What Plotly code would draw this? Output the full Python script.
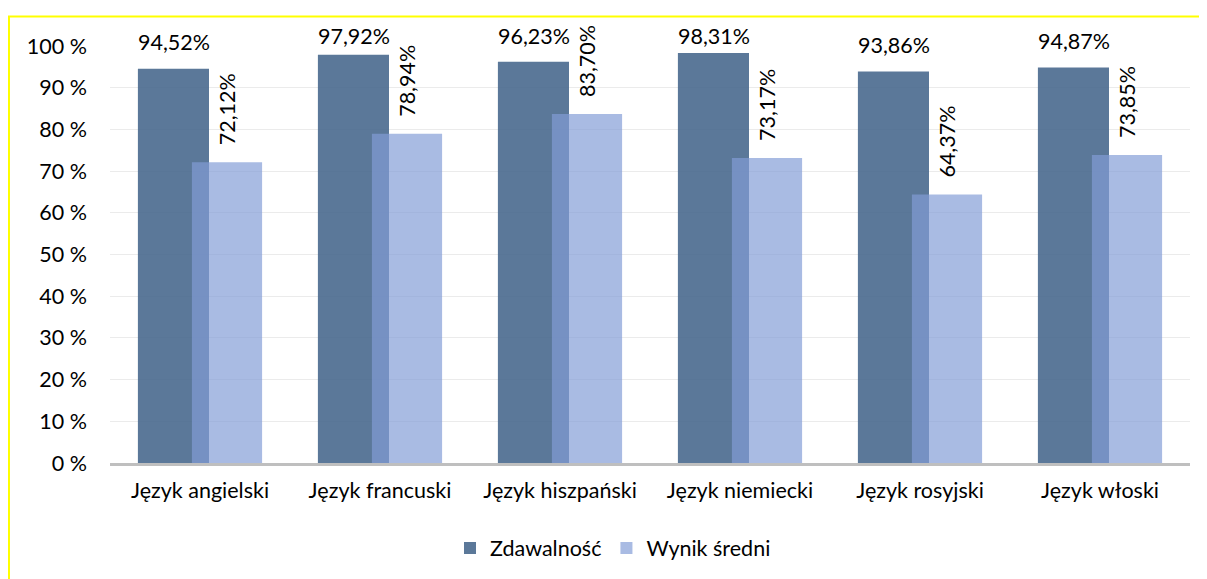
import plotly.graph_objects as go

categories = ["Język angielski", "Język francuski", "Język hiszpański",
              "Język niemiecki", "Język rosyjski", "Język włoski"]
zdawalnosc = [94.52, 97.92, 96.23, 98.31, 93.86, 94.87]
wynik_sredni = [72.12, 78.94, 83.70, 73.17, 64.37, 73.85]
y_ticks = [0, 10, 20, 30, 40, 50, 60, 70, 80, 90, 100]
y_tick_text = [f"{v} %" for v in y_ticks]

def fmt(v):
    return f"{v:.2f}".replace(".", ",") + "%"

FONT = "Lato"
FS = 21.5
OFF = 8  # page body margin
W, H = 1207 - OFF, 579 - OFF
L, R, T, B = 102, 17, 38, 115
PW, PH = W - L - R, H - T - B
Y_MAX = 100
PX_PER_UNIT = PH / Y_MAX

def px(x):  # screen x -> paper
    return (x - OFF - L) / PW

def py(y):  # screen y -> paper
    return (H - B - (y - OFF)) / PH

fig = go.Figure()
fig.add_trace(go.Bar(
    x=categories, y=zdawalnosc, name="Zdawalność",
    marker=dict(color="rgba(73,105,142,0.9)", line=dict(width=0)),
    width=0.395, offset=-0.345,
))
fig.add_trace(go.Bar(
    x=categories, y=wynik_sredni, name="Wynik średni",
    marker=dict(color="rgba(130,156,214,0.69)", line=dict(width=0)),
    width=0.39, offset=-0.045,
))

annotations = []
for c, v in zip(categories, zdawalnosc):
    shift = min(26.5, (Y_MAX - v) * PX_PER_UNIT + 10)
    annotations.append(dict(
        x=c, y=v, xref="x", yref="y", text=fmt(v),
        showarrow=False, xshift=-26.5, yshift=shift,
        yanchor="middle", xanchor="center",
        font=dict(family=FONT, size=FS, color="#000000"),
    ))
for c, v in zip(categories, wynik_sredni):
    annotations.append(dict(
        x=c, y=v, xref="x", yref="y", text=fmt(v), showarrow=False,
        xshift=27, yshift=53, yanchor="middle", xanchor="center",
        textangle=-90,
        font=dict(family=FONT, size=FS, color="#000000"),
    ))

fig.update_layout(
    width=W, height=H,
    margin=dict(l=L, r=R, t=T, b=B, pad=0),
    barmode="overlay",
    paper_bgcolor="white", plot_bgcolor="white",
    font=dict(family=FONT, size=FS, color="#000000"),
    showlegend=True,
    legend=dict(orientation="h", x=px(613), xanchor="center",
                y=py(548), yanchor="middle",
                font=dict(family=FONT, size=FS, color="#000000"),
                itemwidth=30, traceorder="normal"),
    annotations=annotations,
    shapes=[dict(type="rect", xref="paper", yref="paper",
                 x0=px(9), x1=px(1220), y0=py(600), y1=py(16.5),
                 line=dict(color="#FFFF00", width=2), fillcolor="rgba(0,0,0,0)",
                 layer="above")],
    xaxis=dict(showline=True, linecolor="#BFBFBF", linewidth=2.5,
               ticks="", showgrid=False, ticklabelstandoff=6,
               tickfont=dict(family=FONT, size=FS, color="#000000")),
    yaxis=dict(range=[0, Y_MAX], tickvals=y_ticks, ticktext=y_tick_text,
               showgrid=True, gridcolor="#EBEBEB", gridwidth=1,
               zeroline=False, showline=False, ticks="",
               ticklabelstandoff=22,
               tickfont=dict(family=FONT, size=FS, color="#000000")),
)

fig.write_html("out.html")
